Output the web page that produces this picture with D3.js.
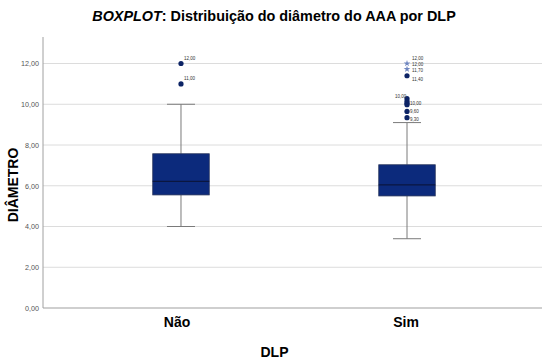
<!DOCTYPE html>
<html><head><meta charset="utf-8">
<script src="https://cdn.jsdelivr.net/npm/d3@7"></script>
<style>body{margin:0;background:#fff}svg{display:block}</style>
</head><body>
<script>
const categories = ["Não", "Sim"];
const q1 = [5.55, 5.50];
const median = [6.21, 6.04];
const q3 = [7.57, 7.03];
const whiskerLow = [4.00, 3.40];
const whiskerHigh = [10.00, 9.10];
const outliers = [[12.00, 11.00], [11.40, 10.28, 10.15, 10.05, 9.98, 9.65, 9.34]];
const extremes = [[], [12.00, 11.72]];
const pointLabels = [
  ["12,00", "11,00"],
  ["12,00", "12,00", "11,70", "11,40", "10,00", "10,00", "9,60", "9,30"]
];
const yTicks = [0, 2, 4, 6, 8, 10, 12];

const W = 542, H = 361;
const svg = d3.select("body").append("svg").attr("width", W).attr("height", H)
  .style("font-family", "'Liberation Sans', Arial, sans-serif");

const y = d3.scaleLinear().domain([0, 12]).range([308, 63.5]);
const x = d3.scalePoint().domain(categories).range([42, 546]).padding(0.615);

// gridlines
svg.append("g").selectAll("line").data(yTicks.filter(d => d > 0)).join("line")
  .attr("x1", 43).attr("x2", W).attr("y1", d => y(d)).attr("y2", d => y(d))
  .attr("stroke", "#dcdcdc").attr("stroke-width", 1);

// axis
const ax = svg.append("g").attr("transform", "translate(43,0)")
  .call(d3.axisLeft(y).tickValues(yTicks).tickSize(0).tickPadding(4)
    .tickFormat(d => d3.format(".2f")(d).replace(".", ",")));
ax.select(".domain").remove();
ax.selectAll("text").attr("fill", "#555").style("font-size", "7.2px");
svg.append("line").attr("x1", 43).attr("x2", 43).attr("y1", 37).attr("y2", 308)
  .attr("stroke", "#a0a0a0");
svg.append("line").attr("x1", 43).attr("x2", W).attr("y1", 308).attr("y2", 308)
  .attr("stroke", "#a0a0a0").attr("stroke-width", 1.2);

const boxW = 56.5, capW = 28;
categories.forEach((c, i) => {
  const X = x(c);
  const g = svg.append("g");
  g.append("line").attr("x1", X).attr("x2", X).attr("y1", y(whiskerHigh[i])).attr("y2", y(q3[i]))
    .attr("stroke", "#7a7a7a");
  g.append("line").attr("x1", X).attr("x2", X).attr("y1", y(q1[i])).attr("y2", y(whiskerLow[i]))
    .attr("stroke", "#7a7a7a");
  [whiskerHigh[i], whiskerLow[i]].forEach(v => {
    g.append("line").attr("x1", X - capW / 2).attr("x2", X + capW / 2).attr("y1", y(v)).attr("y2", y(v))
      .attr("stroke", "#7a7a7a");
  });
  g.append("rect").attr("x", X - boxW / 2).attr("width", boxW)
    .attr("y", y(q3[i])).attr("height", y(q1[i]) - y(q3[i]))
    .attr("fill", "#0c2a7c").attr("stroke", "#26335a").attr("stroke-width", 0.8);
  g.append("line").attr("x1", X - boxW / 2).attr("x2", X + boxW / 2)
    .attr("y1", y(median[i])).attr("y2", y(median[i])).attr("stroke", "#0a1640").attr("stroke-width", 1.2);
  outliers[i].forEach(v => {
    g.append("circle").attr("cx", X).attr("cy", y(v)).attr("r", 2.6).attr("fill", "#0d2466");
  });
  extremes[i].forEach(v => {
    g.append("path").attr("d", d3.symbol(d3.symbolStar, 14)()).attr("transform", `translate(${X},${y(v)})`)
      .attr("fill", "#6f86c0");
  });
});

// point labels
const labelPos = [
  [[12.00, 3, -4], [11.00, 3, -4]],
  [[12.00, 5, -4], [12.00, 5, 2.5], [11.72, 5, 3], [11.40, 5, 5.5], [10.28, -12, -1], [10.05, 3, 1.5], [9.65, 3, 1.5], [9.34, 3, 3]]
];
categories.forEach((c, i) => {
  const X = x(c);
  labelPos[i].forEach((p, j) => {
    svg.append("text").attr("x", X + p[1]).attr("y", y(p[0]) + p[2])
      .attr("fill", "#333").style("font-size", "4.5px").text(pointLabels[i][j]);
  });
});

// category labels
categories.forEach((c, i) => {
  svg.append("text").attr("x", x(c) - (i === 0 ? 4 : 1)).attr("y", 327).attr("text-anchor", "middle")
    .style("font-size", "14px").style("font-weight", "bold").text(c);
});

svg.append("text").attr("x", 274.5).attr("y", 357).attr("text-anchor", "middle")
  .style("font-size", "14px").style("font-weight", "bold").text("DLP");

svg.append("text").attr("transform", "translate(18,185) rotate(-90)").attr("text-anchor", "middle")
  .style("font-size", "14px").style("font-weight", "bold").text("DIÂMETRO");

const t = svg.append("text").attr("x", 274).attr("y", 21).attr("text-anchor", "middle")
  .style("font-size", "14.4px").style("font-weight", "bold");
t.append("tspan").style("font-style", "italic").text("BOXPLOT");
t.append("tspan").text(": Distribuição do diâmetro do AAA por DLP");
</script>
</body></html>
